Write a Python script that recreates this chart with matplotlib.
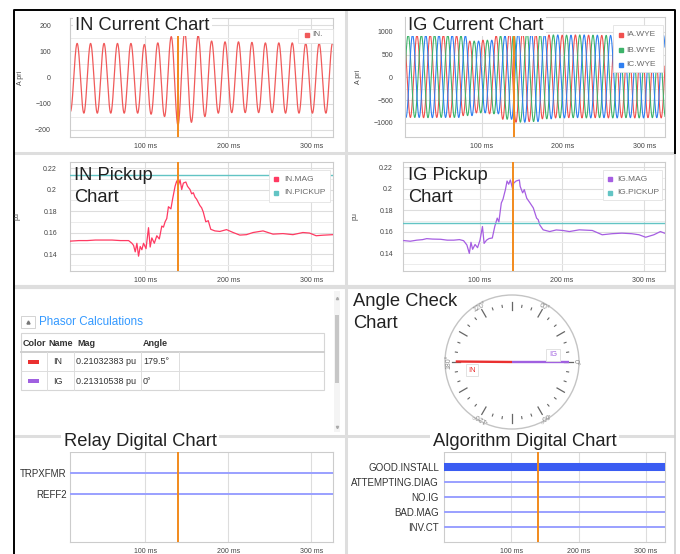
import numpy as np
import matplotlib
matplotlib.use("Agg")
import matplotlib.pyplot as plt
from matplotlib.patches import Rectangle, Circle

plt.rcParams["font.family"] = ["Liberation Sans", "DejaVu Sans"]

# ---------------- data ----------------
cursor_ms = 140
time_ticks_ms = [100, 200, 300]
time_tick_labels = ["100 ms", "200 ms", "300 ms"]

# IN current (A pri): successive half-cycle peaks, starting with a negative peak
in_peak_start_ms = 9.9
half_cycle_ms = 8.1
in_neg_peaks = [-130, -136, -136, -136, -136, -136, -140, -149, -182, -171,
                -149, -136, -134, -134, -134, -134, -136, -136, -136, -136]
in_pos_peaks = [130, 130, 130, 130, 130, 126, 132, 156, 173, 160,
                139, 136, 136, 134, 132, 132, 132, 130, 130, 132]

# IG current (A pri): three phases, shared cycle-by-cycle peaks
ig_peak_start_ms = 4.6
ig_phase_names = ["IA.WYE", "IB.WYE", "IC.WYE"]
ig_phase_delay_ms = [0.0, 5.4, 10.8]
ig_pos_peaks = [940, 935, 940, 935, 920, 800, 820, 920, 985, 1000, 960,
                935, 930, 935, 930, 925, 930, 935, 930, 930, 930]
ig_neg_peaks = [-880, -885, -880, -880, -840, -780, -800, -920, -985, -970, -910,
                -890, -885, -890, -885, -890, -885, -890, -885, -890, -885]

# IN pickup (pu)
in_mag_ms = [10, 20, 30, 40, 50, 60, 70, 80, 84, 86,
             88, 90, 92, 94, 96, 98, 101, 104, 106, 108,
             111, 114, 117, 120, 122, 124, 126, 128, 131, 133,
             136, 138, 140, 142, 144, 146, 149, 151, 154, 156,
             158, 160, 162, 164, 166, 168, 170, 173, 176, 179,
             184, 190, 198, 206, 214, 222, 230, 242, 254, 266,
             278, 290, 298, 306, 314, 326]
in_mag_pu = [0.152, 0.1525, 0.1525, 0.153, 0.153, 0.153, 0.1525, 0.1525, 0.150, 0.148,
             0.142, 0.150, 0.138, 0.147, 0.144, 0.150, 0.145, 0.1645, 0.1465, 0.155,
             0.150, 0.157, 0.154, 0.166, 0.165, 0.170, 0.173, 0.184, 0.182, 0.191,
             0.203, 0.208, 0.204, 0.209, 0.200, 0.206, 0.207, 0.203, 0.200, 0.196,
             0.197, 0.193, 0.191, 0.188, 0.185, 0.183, 0.179, 0.170, 0.171, 0.163,
             0.1615, 0.161, 0.1627, 0.160, 0.1576, 0.158, 0.160, 0.1615, 0.1585, 0.159,
             0.158, 0.160, 0.1595, 0.157, 0.1575, 0.158]
in_pickup_pu = 0.2135

# IG pickup (pu)
ig_mag_ms = [7, 15, 23, 30, 35, 42, 52, 60, 68, 75,
             80, 84, 87, 89, 91, 94, 97, 100, 103, 105,
             108, 111, 115, 118, 121, 123, 126, 128, 131, 133,
             135, 137, 140, 141, 144, 148, 149, 152, 154, 157,
             161, 165, 169, 171, 173, 177, 185, 193, 201, 209,
             221, 237, 249, 261, 273, 285, 294, 302, 312, 320, 325]
ig_mag_pu = [0.1516, 0.151, 0.152, 0.1525, 0.1534, 0.153, 0.1528, 0.152, 0.152, 0.1525,
             0.1515, 0.1475, 0.1397, 0.150, 0.1435, 0.148, 0.145, 0.152, 0.1647, 0.149,
             0.152, 0.1535, 0.154, 0.1647, 0.1725, 0.169, 0.1866, 0.190, 0.199, 0.207,
             0.204, 0.208, 0.199, 0.205, 0.207, 0.208, 0.202, 0.196, 0.199, 0.191,
             0.1866, 0.182, 0.1725, 0.171, 0.166, 0.1616, 0.160, 0.1615, 0.161, 0.160,
             0.1616, 0.161, 0.157, 0.158, 0.1585, 0.158, 0.157, 0.1547, 0.157, 0.160, 0.1585]
ig_pickup_pu = 0.168

# Phasor calculations
phasor_names = ["IN", "IG"]
phasor_mag_pu = [0.21032383, 0.21310538]
phasor_angle_deg = [179.5, 0.0]

# Digital charts
relay_signals = ["TRPXFMR", "REFF2"]
relay_states = [0, 0]
algo_signals = ["GOOD.INSTALL", "ATTEMPTING.DIAG", "NO.IG", "BAD.MAG", "INV.CT"]
algo_states = [1, 0, 0, 0, 0]

# ---------------- style ----------------
C_IN = "#f05a5a"
C_PH = ["#f0504f", "#3db36a", "#2f7ff0"]
C_INMAG = "#ff3a62"
C_IGMAG = "#a65ee2"
C_PICK = "#62c4c4"
C_CURSOR = "#f28a1c"
C_PHASOR = ["#ea3030", "#a060e0"]
C_DIG_LO = "#9aa0ff"
C_DIG_HI = "#3a5cf2"
TXT = "#444444"

W, H = 680, 554
fig = plt.figure(figsize=(W / 100, H / 100), dpi=100)


def ax_at(x0, y0, x1, y1, **kw):
    return fig.add_axes([x0 / W, 1 - y1 / H, (x1 - x0) / W, (y1 - y0) / H], **kw)


def wave(t, t0, half, peaks):
    p = np.asarray(peaks, float)
    pos = (t - t0) / half
    j = np.clip(np.floor(pos).astype(int), 0, len(p) - 2)
    frac = pos - j
    a, b = p[j], p[j + 1]
    return (a - b) / 2 * np.cos(np.pi * frac) + (a + b) / 2


def interleave(first, second):
    out = []
    for a, b in zip(first, second):
        out += [a, b]
    return out


def fmt(v):
    return f"{v:g}".replace("-", "\u2212")


def style_time_axis(ax, xlim):
    ax.set_xlim(*xlim)
    ax.set_xticks(time_ticks_ms)
    ax.set_xticklabels(time_tick_labels)
    ax.tick_params(axis="x", length=0, pad=4.5, labelsize=5, labelcolor=TXT)
    ax.grid(axis="x", color="#dddddd", lw=0.8)
    for s in ax.spines.values():
        s.set_color("#cccccc")
        s.set_linewidth(0.8)
    ax.set_axisbelow(True)
    ax.axvline(cursor_ms, color=C_CURSOR, lw=1.4, zorder=6)


def style_value_axis(ax, ylim, major, minor, pad, label, label_px, ax_x0, ax_w):
    ax.set_ylim(*ylim)
    ax.set_yticks(major)
    ax.set_yticklabels([fmt(v) for v in major])
    ax.set_yticks(minor, minor=True)
    ax.tick_params(axis="y", which="both", length=0, pad=pad, labelsize=5, labelcolor=TXT)
    ax.grid(axis="y", which="major", color="#dddddd", lw=0.8)
    ax.grid(axis="y", which="minor", color="#ececec", lw=0.7)
    ax.set_ylabel(label, fontsize=5, color=TXT)
    ax.yaxis.set_label_coords((label_px - ax_x0) / ax_w, 0.5)


# ---------- background frame ----------
bg = fig.add_axes([0, 0, 1, 1], zorder=-5)
bg.set_xlim(0, W)
bg.set_ylim(H, 0)
bg.axis("off")
for y in (153, 287, 436):
    bg.plot([14, 675], [y, y], color="#dedede", lw=2.2 if y != 287 else 3, solid_capstyle="butt")
bg.plot([345.5, 345.5], [10, H], color="#dedede", lw=2.2)
bg.plot([675, 675], [153, H], color="#d0d0d0", lw=1.2)
bg.plot([14, 14, 675, 675], [H, 10, 10, 153], color="black", lw=1.4)

# ---------- IN current ----------
ax1 = ax_at(70, 18, 333, 137)
x1lim = (9.4, 326.3)
t = np.linspace(*x1lim, 4000)
ax1.plot(t, wave(t, in_peak_start_ms, half_cycle_ms, interleave(in_neg_peaks, in_pos_peaks)),
         color=C_IN, lw=0.9)
style_time_axis(ax1, x1lim)
style_value_axis(ax1, (-227, 227), [-200, -100, 0, 100, 200], [-150, -50, 50, 150],
                 13.7, "A pri", 23.5, 70, 263)

# ---------- IG current ----------
ax2 = ax_at(405, 17, 665, 137)
x2lim = (6.1, 325.2)
t = np.linspace(*x2lim, 4000)
for name, delay, col in zip(ig_phase_names, ig_phase_delay_ms, C_PH):
    ax2.plot(t, wave(t, ig_peak_start_ms + delay, half_cycle_ms,
                     interleave(ig_pos_peaks, ig_neg_peaks)), color=col, lw=0.8)
style_time_axis(ax2, x2lim)
style_value_axis(ax2, (-1310, 1330), [-1000, -500, 0, 500, 1000], [-750, -250, 250, 750],
                 8.6, "A pri", 362, 405, 260)

# ---------- IN pickup ----------
ax3 = ax_at(70, 162, 333, 271)
ax3.plot(in_mag_ms, in_mag_pu, color=C_INMAG, lw=0.9, zorder=3)
ax3.axhline(in_pickup_pu, color=C_PICK, lw=1.0, zorder=3)
style_time_axis(ax3, x1lim)
style_value_axis(ax3, (0.1242, 0.2256), [0.14, 0.16, 0.18, 0.2, 0.22],
                 [0.13, 0.15, 0.17, 0.19, 0.21], 9.4, "pu", 21, 70, 263)

# ---------- IG pickup ----------
ax4 = ax_at(403, 162, 665, 271)
x4lim = (6.1, 325.6)
ax4.plot(ig_mag_ms, ig_mag_pu, color=C_IGMAG, lw=0.9, zorder=3)
ax4.axhline(ig_pickup_pu, color=C_PICK, lw=1.0, zorder=3)
style_time_axis(ax4, x4lim)
style_value_axis(ax4, (0.1233, 0.2247), [0.14, 0.16, 0.18, 0.2, 0.22],
                 [0.13, 0.15, 0.17, 0.19, 0.21], 7.2, "pu", 359, 403, 262)

# ---------- Angle check ----------
ax5 = ax_at(437, 287, 587, 437, zorder=4)
ax5.set_xlim(-75, 75)
ax5.set_ylim(-75, 75)
ax5.axis("off")
ax5.add_patch(Circle((0, 0), 67, fill=False, edgecolor="#c4c4c4", lw=1.0))
for deg in range(0, 360, 10):
    th = np.deg2rad(deg)
    if deg % 30 == 0:
        r0, r1, lw = 52, 60.5, 0.9
    else:
        r0, r1, lw = 55.5, 57.5, 0.8
    ax5.plot([r0 * np.cos(th), r1 * np.cos(th)], [r0 * np.sin(th), r1 * np.sin(th)],
             color="#666666", lw=lw)
for deg in (0, 60, 120, 180, -60, -120):
    th = np.deg2rad(deg)
    ax5.text(63.5 * np.cos(th), 63.5 * np.sin(th), f"{deg}°", fontsize=5, color="#888888",
             rotation=deg - 90, ha="center", va="center", rotation_mode="anchor")
mmax = max(phasor_mag_pu)
for mag, ang, col in zip(phasor_mag_pu, phasor_angle_deg, C_PHASOR):
    r = 57 * mag / mmax
    th = np.deg2rad(ang)
    ax5.plot([0, r * np.cos(th)], [0, r * np.sin(th)], color=col, lw=1.7, solid_capstyle="butt")
label_offsets = [(-40, -8), (41, 7)]
for name, (ox, oy), col in zip(phasor_names, label_offsets, C_PHASOR):
    ax5.text(ox, oy, name, fontsize=5.5, color=col, ha="center", va="center",
             bbox=dict(boxstyle="square,pad=0.35", fc="white", ec="#dddddd", lw=0.6))

# ---------- Relay digital ----------
ax6 = ax_at(70, 452, 333, 542)
style_time_axis(ax6, x1lim)
ax6.set_ylim(90 / 21, 0)
ax6.set_yticks(range(1, len(relay_signals) + 1))
ax6.set_yticklabels(relay_signals)
ax6.tick_params(axis="y", length=0, pad=2.4, labelsize=7, labelcolor="#333333")
for i, s in enumerate(relay_states):
    ax6.axhline(i + 1, color=C_DIG_HI if s else C_DIG_LO, lw=5.8 if s else 1.4, zorder=3)

# ---------- Algorithm digital ----------
ax7 = ax_at(444, 452, 665, 542)
style_time_axis(ax7, (0.6, 328))
ax7.set_ylim(6, 0)
ax7.set_yticks(range(1, len(algo_signals) + 1))
ax7.set_yticklabels(algo_signals)
ax7.tick_params(axis="y", length=0, pad=3.6, labelsize=7, labelcolor="#333333")
for i, s in enumerate(algo_states):
    ax7.axhline(i + 1, color=C_DIG_HI if s else C_DIG_LO, lw=5.8 if s else 1.4, zorder=3)

# ---------- top overlay: titles, legends, table ----------
top = fig.add_axes([0, 0, 1, 1], zorder=10)
top.set_xlim(0, W)
top.set_ylim(H, 0)
top.axis("off")

TFS = 13.2
wbox = dict(boxstyle="square,pad=0.12", fc="white", ec="none")
top.text(75, 29.5, "IN Current Chart", fontsize=TFS, color="#222222", va="baseline", bbox=wbox)
top.text(408, 29.5, "IG Current Chart", fontsize=TFS, color="#222222", va="baseline", bbox=wbox)
top.text(74, 179.5, "IN Pickup", fontsize=TFS, color="#222222", va="baseline")
top.text(74, 202, "Chart", fontsize=TFS, color="#222222", va="baseline")
top.text(408, 179.5, "IG Pickup", fontsize=TFS, color="#222222", va="baseline")
top.text(408, 202, "Chart", fontsize=TFS, color="#222222", va="baseline")
top.text(353, 306, "Angle Check", fontsize=TFS, color="#222222", va="baseline")
top.text(353, 328.5, "Chart", fontsize=TFS, color="#222222", va="baseline")
top.text(140, 445.7, "Relay Digital Chart", fontsize=TFS, color="#222222", va="baseline",
         ha="center", bbox=wbox)
top.text(524.5, 445.7, "Algorithm Digital Chart", fontsize=TFS, color="#222222", va="baseline",
         ha="center", bbox=wbox)


def legend_box(x0, y0, x1, y1, labels, colors, sq_x, txt_x, ys):
    top.add_patch(Rectangle((x0, y0), x1 - x0, y1 - y0, facecolor="white",
                            edgecolor="#e2e2e2", lw=0.6))
    for lab, col, y in zip(labels, colors, ys):
        top.plot(sq_x, y, marker="s", ms=3, color=col, mec=col)
        top.text(txt_x, y, lab, fontsize=6, color="#6a6a6a", va="center")


legend_box(298, 29, 333, 43, ["IN."], [C_IN], 307, 312.5, [35])
legend_box(613, 25, 663, 72, ig_phase_names, C_PH, 620.7, 626, [35, 50, 65])
legend_box(269, 170, 330, 202, ["IN.MAG", "IN.PICKUP"], [C_INMAG, C_PICK], 276, 284, [179.3, 192.7])
legend_box(603, 170, 662, 200, ["IG.MAG", "IG.PICKUP"], [C_IGMAG, C_PICK], 609.5, 617.3, [179.3, 193])

# Phasor calculations panel
top.add_patch(Rectangle((21, 316), 14, 12, facecolor="white", edgecolor="#cccccc", lw=0.6))
top.plot(28, 322, marker="^", ms=2.2, color="#777777")
top.text(39, 322, "Phasor Calculations", fontsize=8.4, color="#3399ff", va="center")
top.add_patch(Rectangle((21, 333), 303, 57, facecolor="white", edgecolor="#d6d6d6", lw=0.8))
top.plot([21, 324], [352, 352], color="#cfcfcf", lw=1.4)
top.plot([21, 324], [371, 371], color="#dddddd", lw=0.7)
for xv in (47, 74, 141, 179):
    top.plot([xv, xv], [352, 390], color="#dddddd", lw=0.7)
for xh, lab in zip((22.5, 48.5, 77, 143), ("Color", "Name", "Mag", "Angle")):
    top.text(xh, 343, lab, fontsize=6.5, fontweight="bold", color="#333333", va="center")
for i, (name, mag, ang, col) in enumerate(zip(phasor_names, phasor_mag_pu, phasor_angle_deg, C_PHASOR)):
    yc = 362 + 19 * i
    top.add_patch(Rectangle((28, yc - 1.8), 11, 3.6, facecolor=col, edgecolor="none"))
    top.text(53.5, yc, name, fontsize=6.5, color="#333333", va="center")
    top.text(76.5, yc, f"{mag:.8f} pu", fontsize=6.5, color="#333333", va="center")
    top.text(143, yc, f"{ang:g}°", fontsize=6.5, color="#333333", va="center")
# scrollbar
top.add_patch(Rectangle((334, 291), 6, 141, facecolor="#f4f4f4", edgecolor="none"))
top.add_patch(Rectangle((334.6, 315), 4.8, 68, facecolor="#c6c6c6", edgecolor="none"))
top.plot(337, 298, marker="^", ms=1.6, color="#aaaaaa")
top.plot(337, 427, marker="v", ms=1.6, color="#aaaaaa")

fig.savefig("out.png", dpi=100)
